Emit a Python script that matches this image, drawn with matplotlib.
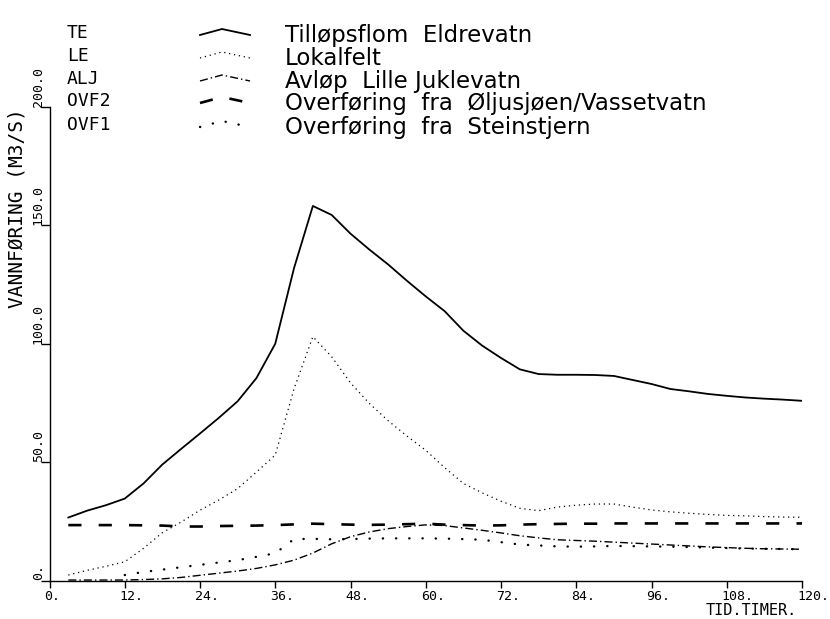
import matplotlib
matplotlib.use("Agg")
import matplotlib.pyplot as plt
from matplotlib.lines import Line2D
from matplotlib.transforms import ScaledTranslation

# ---------------- data ----------------
hours = [3, 6, 9, 12, 15, 18, 21, 24, 27, 30, 33, 36, 39, 42, 45, 48, 51, 54, 57, 60,
         63, 66, 69, 72, 75, 78, 81, 84, 87, 90, 93, 96, 99, 102, 105, 108, 111, 114, 117, 120]

te = [26.6, 29.5, 31.8, 34.6, 41.0, 49.0, 55.6, 62.1, 68.7, 75.7, 85.5, 100.0, 132.0, 158.2,
      154.4, 146.5, 139.8, 133.5, 126.6, 120.0, 113.8, 105.5, 99.2, 94.0, 89.2, 87.2, 86.9,
      86.9, 86.8, 86.4, 84.7, 83.0, 80.9, 79.9, 78.8, 78.0, 77.3, 76.8, 76.4, 75.9]

le = [2.3, 4.3, 6.0, 7.9, 13.6, 20.2, 24.7, 29.7, 34.0, 38.8, 45.8, 53.0, 81.0, 103.0,
      94.5, 83.5, 74.8, 67.5, 61.0, 55.0, 47.7, 41.0, 37.0, 33.5, 30.5, 29.5, 31.0, 31.8,
      32.3, 32.3, 31.0, 29.8, 29.0, 28.4, 27.9, 27.5, 27.3, 27.0, 26.8, 26.7]

alj = [0.2, 0.2, 0.2, 0.2, 0.4, 0.7, 1.3, 2.2, 3.1, 4.0, 5.1, 6.6, 8.6, 11.6, 15.5, 18.5,
       20.5, 21.9, 22.8, 23.5, 23.2, 22.2, 21.2, 20.1, 18.9, 18.0, 17.2, 16.9, 16.6, 16.2,
       15.8, 15.4, 15.0, 14.6, 14.2, 13.9, 13.6, 13.4, 13.3, 13.2]

ovf2 = [23.4, 23.4, 23.4, 23.4, 23.3, 23.2, 22.8, 22.8, 23.0, 23.1, 23.2, 23.4, 23.7, 24.0,
        23.8, 23.6, 23.5, 23.6, 23.8, 24.0, 23.6, 23.4, 23.2, 23.3, 23.6, 23.8, 23.9, 24.0,
        24.0, 24.1, 24.1, 24.1, 24.1, 24.1, 24.1, 24.1, 24.1, 24.1, 24.1, 24.1]

ovf1_hours = [12, 15, 18, 21, 24, 27, 30, 33, 36, 39, 42, 45, 48, 51, 54, 57, 60, 63, 66,
              69, 72, 75, 78, 81, 84, 87, 90, 93, 96, 99, 102, 105, 108, 111, 114, 117, 120]
ovf1 = [2.3, 3.6, 4.6, 5.6, 6.6, 7.6, 8.6, 10.0, 11.5, 17.5, 17.6, 17.4, 17.5, 17.7, 17.8,
        17.8, 17.8, 17.7, 17.5, 17.2, 16.2, 15.2, 14.8, 14.4, 14.3, 14.4, 14.6, 14.5, 14.4,
        14.3, 14.1, 13.9, 13.7, 13.5, 13.4, 13.3, 13.2]

codes = ["TE", "LE", "ALJ", "OVF2", "OVF1"]
names = ["Tilløpsflom  Eldrevatn", "Lokalfelt", "Avløp  Lille Juklevatn",
         "Overføring  fra  Øljusjøen/Vassetvatn", "Overføring  fra  Steinstjern"]

x_ticks = [0, 12, 24, 36, 48, 60, 72, 84, 96, 108, 120]
x_tick_labels = ["0.", "12.", "24.", "36.", "48.", "60.", "72.", "84.", "96.", "108.", "120."]
y_ticks = [0, 50, 100, 150, 200]
y_tick_labels = ["0.", "50.0", "100.0", "150.0", "200.0"]

x_label = "TID.TIMER."
y_label = "VANNFØRING (M3/S)"

# ---------------- figure ----------------
W, H = 830, 619
fig = plt.figure(figsize=(W / 100, H / 100), dpi=100)
fig.patch.set_facecolor("white")

x0, x1 = 49.5, 802.0
y0, y1 = 580.5, 107.0
ax = fig.add_axes([x0 / W, (H - y0) / H, (x1 - x0) / W, (y0 - y1) / H])
ax.set_xlim(0, 120)
ax.set_ylim(0, 200)
ax.set_facecolor("white")

PLOT = "DejaVu Sans Mono"
HAND = "DejaVu Sans"
K = "black"

styles = {
    "TE": dict(linestyle="-", lw=1.3),
    "LE": dict(linestyle=(0, (1, 3)), lw=0.9),
    "ALJ": dict(linestyle=(0, (5.8, 2.2, 1, 2.2)), lw=1.0),
    "OVF2": dict(linestyle=(0, (5, 6.5)), lw=1.9),
    "OVF1": dict(linestyle=(0, (0.1, 5.5)), lw=1.7, dash_capstyle="round"),
}

ax.plot(hours, te, color=K, **styles["TE"])
ax.plot(hours, le, color=K, **styles["LE"])
ax.plot(hours, alj, color=K, **styles["ALJ"])
ax.plot(hours, ovf2, color=K, **styles["OVF2"])
ax.plot(ovf1_hours, ovf1, color=K, **styles["OVF1"])

# spines / ticks
for s in ["top", "right"]:
    ax.spines[s].set_visible(False)
for s in ["left", "bottom"]:
    ax.spines[s].set_linewidth(1.0)
    ax.spines[s].set_color(K)

ax.set_xticks(x_ticks)
ax.set_xticklabels(x_tick_labels, fontfamily=PLOT, fontsize=9.5, ha="left")
ax.set_yticks(y_ticks)
ax.set_yticklabels(y_tick_labels, fontfamily=PLOT, fontsize=9.5, rotation=90,
                   va="bottom", ha="right")
ax.tick_params(axis="x", direction="out", length=5, width=1.0, pad=2, colors=K)
ax.tick_params(axis="y", direction="out", length=6.5, width=1.0, pad=-3, colors=K)
shift = ScaledTranslation(-5.0 / 100, 0, fig.dpi_scale_trans)
for lab in ax.get_xticklabels():
    lab.set_transform(lab.get_transform() + shift)

# axis titles
fig.text(797 / W, (H - 615.3) / H, x_label, fontfamily=PLOT, fontsize=11,
         ha="right", va="baseline", color=K)
fig.text(17 / W, (H - 208) / H, y_label, fontfamily=PLOT, fontsize=14,
         rotation=90, ha="center", va="center", color=K)

# ---------------- hand-drawn style legend ----------------
row_y = [32, 55, 78, 100, 124]
for code, name, ry in zip(codes, names, row_y):
    fig.text(67 / W, (H - (ry + 6)) / H, code, fontfamily=PLOT, fontsize=13,
             ha="left", va="baseline", color=K)
    fig.text(285 / W, (H - (ry + 10)) / H, name, fontfamily=HAND, fontsize=16.5,
             ha="left", va="baseline", color=K)
    sx = [200, 222, 250]
    sy = [ry + 3, ry - 3, ry + 3]
    ln = Line2D([v / W for v in sx], [(H - v) / H for v in sy],
                transform=fig.transFigure, color=K, **styles[code])
    fig.add_artist(ln)

fig.savefig("out.png", dpi=100, facecolor="white")
